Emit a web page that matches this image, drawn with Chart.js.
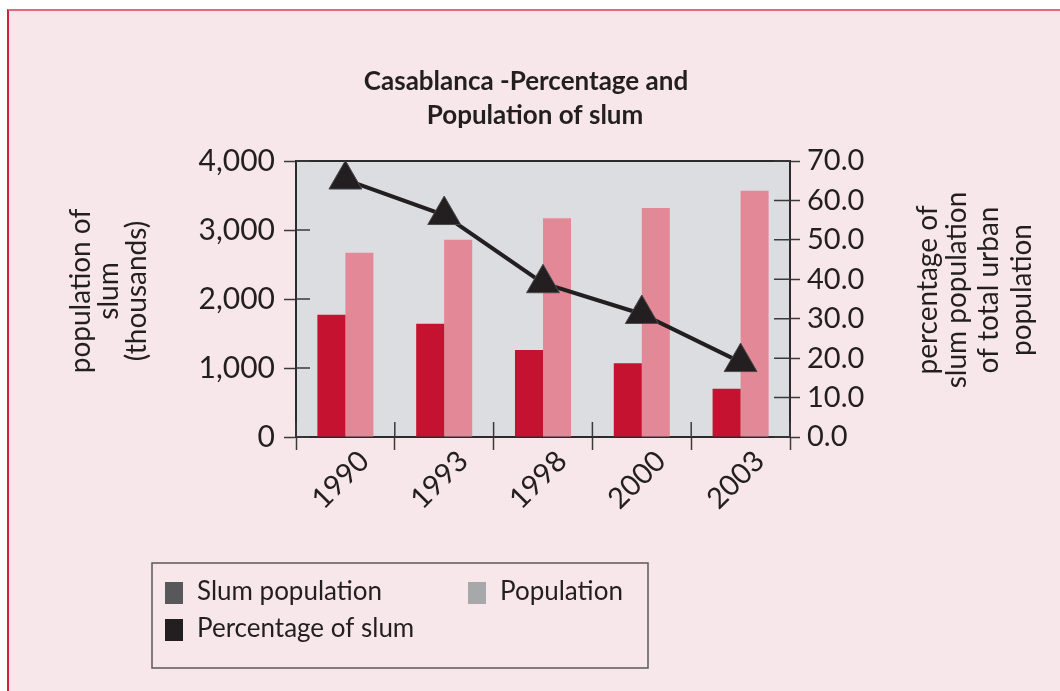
<!DOCTYPE html>
<html>
<head>
<meta charset="utf-8">
<title>Casablanca - Percentage and Population of slum</title>
<script src="https://cdn.jsdelivr.net/npm/chart.js@4/dist/chart.umd.min.js"></script>
<style>
  html, body { margin: 0; padding: 0; background: #ffffff; }
  #panel {
    position: absolute; left: 7px; top: 9px; right: 0; bottom: 0;
    background: #f7e7ea;
    border-top: 2px solid #e0687f;
    border-left: 2px solid #d2203f;
  }
  #wrap { position: absolute; left: 0; top: 0; width: 1060px; height: 691px; }
</style>
</head>
<body>
<div id="panel"></div>
<div id="wrap"><canvas id="chart" width="1060" height="691"></canvas></div>
<script>
// data
const years = ['1990', '1993', '1998', '2000', '2003'];
const slumPopulation = [1770, 1640, 1260, 1070, 700];   // thousands
const totalPopulation = [2670, 2860, 3170, 3320, 3570]; // thousands
const slumPercent = [65.3, 56.3, 39.0, 31.2, 19.0];     // % of urban population

const FONT = 'Lato';
const INK = '#231f20';

// plot frame, inner tick marks, titles and the legend box
const decor = {
  id: 'decor',
  beforeDraw(chart) {
    const { ctx, chartArea: a } = chart;
    ctx.save();
    ctx.fillStyle = '#dcdde0';
    ctx.fillRect(a.left, a.top, a.right - a.left, a.bottom - a.top);
    ctx.restore();
  },
  beforeDatasetsDraw(chart) {
    const { ctx, chartArea: a, scales } = chart;
    ctx.save();
    ctx.strokeStyle = '#2b2b2b';
    ctx.lineWidth = 2;
    ctx.beginPath();
    ctx.moveTo(a.left, a.top);
    ctx.lineTo(a.right, a.top);
    ctx.stroke();

    ctx.strokeStyle = '#3a3a3a';
    ctx.lineWidth = 1.5;
    ctx.beginPath();
    scales.y.ticks.forEach(t => {
      const py = scales.y.getPixelForValue(t.value);
      ctx.moveTo(a.left, py);
      ctx.lineTo(a.left + 14, py);
    });
    scales.y1.ticks.forEach(t => {
      const py = scales.y1.getPixelForValue(t.value);
      ctx.moveTo(a.right - 16, py);
      ctx.lineTo(a.right, py);
    });
    const step = (a.right - a.left) / years.length;
    for (let i = 0; i <= years.length; i++) {
      const px = a.left + i * step;
      ctx.moveTo(px, a.bottom - 15);
      ctx.lineTo(px, a.bottom);
    }
    ctx.stroke();
    ctx.restore();
  },
  afterDraw(chart) {
    const { ctx } = chart;
    ctx.save();
    ctx.fillStyle = INK;

    // title
    ctx.textAlign = 'center';
    ctx.textBaseline = 'middle';
    ctx.font = `bold 26px ${FONT}`;
    ctx.fillText('Casablanca -Percentage and', 526, 82);
    ctx.fillText('Population of slum', 535, 116);

    // axis titles, both read bottom to top
    ctx.font = `28px ${FONT}`;
    const leftTitle = ['population of', 'slum', '(thousands)'];
    const leftX = [81, 109, 137];
    leftTitle.forEach((s, i) => {
      ctx.save();
      ctx.translate(leftX[i], 291);
      ctx.rotate(-Math.PI / 2);
      ctx.fillText(s, 0, 0);
      ctx.restore();
    });
    const rightTitle = ['percentage of', 'slum population', 'of total urban', 'population'];
    const rightX = [928, 957, 989, 1022];
    rightTitle.forEach((s, i) => {
      ctx.save();
      ctx.translate(rightX[i], 290);
      ctx.rotate(-Math.PI / 2);
      ctx.fillText(s, 0, 0);
      ctx.restore();
    });

    // legend box (its swatches are grey in the original)
    ctx.strokeStyle = '#5a5a5a';
    ctx.lineWidth = 1.5;
    ctx.strokeRect(152, 563, 496, 105);
    const legend = [
      { text: 'Slum population', color: '#58585a', x: 165, y: 582 },
      { text: 'Population', color: '#a7a8aa', x: 468, y: 582 },
      { text: 'Percentage of slum', color: INK, x: 165, y: 619 }
    ];
    ctx.textAlign = 'left';
    ctx.font = `26px ${FONT}`;
    legend.forEach(l => {
      ctx.fillStyle = l.color;
      ctx.fillRect(l.x, l.y, 18, 22);
      ctx.fillStyle = INK;
      ctx.fillText(l.text, l.x + 32, l.y + 10);
    });
    ctx.restore();
  }
};

new Chart(document.getElementById('chart'), {
  data: {
    labels: years,
    datasets: [
      {
        type: 'line',
        label: 'Percentage of slum',
        data: slumPercent,
        yAxisID: 'y1',
        order: 0,
        borderColor: INK,
        borderWidth: 4,
        pointStyle: 'triangle',
        pointRadius: 19,
        pointBackgroundColor: INK,
        pointBorderColor: '#4a4a4a',
        pointBorderWidth: 1,
        tension: 0
      },
      {
        type: 'bar',
        label: 'Slum population',
        data: slumPopulation,
        yAxisID: 'y',
        order: 1,
        backgroundColor: '#c41230',
        categoryPercentage: 0.567,
        barPercentage: 1
      },
      {
        type: 'bar',
        label: 'Population',
        data: totalPopulation,
        yAxisID: 'y',
        order: 1,
        backgroundColor: '#e38896',
        categoryPercentage: 0.567,
        barPercentage: 1
      }
    ]
  },
  options: {
    responsive: false,
    animation: false,
    layout: { padding: { top: 161, left: 0, right: 0, bottom: 0 } },
    plugins: {
      legend: { display: false },
      title: { display: false },
      tooltip: { enabled: false }
    },
    scales: {
      x: {
        afterFit: s => { s.height = 254; },
        border: { display: true, color: '#2b2b2b', width: 2 },
        grid: {
          offset: true,
          drawOnChartArea: false,
          tickLength: 13,
          tickColor: '#3a3a3a',
          tickWidth: 1.5
        },
        ticks: {
          minRotation: 45,
          maxRotation: 45,
          labelOffset: 19,
          padding: -6,
          color: INK,
          font: { family: FONT, size: 29 }
        }
      },
      y: {
        position: 'left',
        min: 0,
        max: 4000,
        afterFit: s => { s.width = 296; },
        border: { display: true, color: '#2b2b2b', width: 2 },
        grid: {
          drawOnChartArea: false,
          tickLength: 12,
          tickColor: '#3a3a3a',
          tickWidth: 1.5
        },
        ticks: {
          stepSize: 1000,
          padding: 9,
          color: INK,
          font: { family: FONT, size: 30 },
          callback: v => v.toLocaleString('en-US')
        }
      },
      y1: {
        position: 'right',
        min: 0,
        max: 70,
        afterFit: s => { s.width = 270; },
        border: { display: true, color: '#2b2b2b', width: 2 },
        grid: {
          drawOnChartArea: false,
          tickLength: 10,
          tickColor: '#3a3a3a',
          tickWidth: 1.5
        },
        ticks: {
          stepSize: 10,
          padding: 7,
          color: INK,
          font: { family: FONT, size: 29 },
          callback: v => v.toFixed(1)
        }
      }
    }
  },
  plugins: [decor]
});
</script>
</body>
</html>
